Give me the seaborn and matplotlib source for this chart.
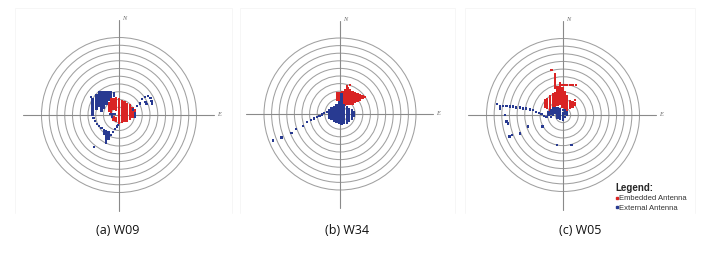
import matplotlib
matplotlib.use("Agg")
import matplotlib.pyplot as plt
import seaborn as sns
import pandas as pd
from matplotlib.patches import Circle
from matplotlib.lines import Line2D

# ---------------- data (units: one ring spacing = 1) ----------------
rings = [1, 2, 3, 4, 5, 6, 7, 8, 9, 10]
captions = ["(a) W09", "(b) W34", "(c) W05"]
series_names = ["Embedded Antenna", "External Antenna"]

# columns of points: (x, [y values])
a_red_cols = [
    (-1.3, [0.6, 0.9, 1.2, 1.5]),
    (-1.0, [0.2, 0.5, 0.8, 1.1, 1.4, 1.7, 2.0]),
    (-0.7, [-0.6, -0.3, 0.8, 1.1, 1.4, 1.7, 2.0]),
    (-0.35, [-0.7, -0.4, 0.7, 1.0, 1.3, 1.6, 1.9, 2.2]),
    (0.0, [-1.0, -0.7, -0.4, -0.1, 0.2, 0.5, 0.8, 1.1, 1.4, 1.7, 2.0]),
    (0.35, [-0.9, -0.6, -0.3, 0.0, 0.3, 0.6, 0.9, 1.2, 1.5, 1.8]),
    (0.7, [-0.8, -0.5, -0.2, 0.1, 0.4, 0.7, 1.0, 1.3, 1.6]),
    (1.05, [-0.7, -0.4, -0.1, 0.2, 0.5, 0.8, 1.1, 1.4]),
    (1.4, [-0.5, -0.2, 0.1, 0.4, 0.7, 1.0, 1.3]),
    (1.75, [-0.3, 0.0, 0.3, 0.6, 0.9]),
    (2.1, [0.0, 0.3, 0.6]),
]
a_blue_cols = [
    (-3.6, [2.3]),
    (-3.4, [0.0, 0.3, 0.6, 0.9, 1.2, 1.5, 1.8, 2.1]),
    (-3.3, [-0.4]), (-3.1, [-0.8]), (-2.85, [-1.15]), (-2.55, [-1.45]), (-2.25, [-1.7]),
    (-2.9, [0.8, 1.1, 1.4, 1.7, 2.0, 2.3, 2.6]),
    (-2.6, [1.2, 1.5, 1.8, 2.1, 2.4, 2.7, 3.0]),
    (-2.25, [0.6, 0.9, 1.2, 1.5, 1.8, 2.1, 2.4, 2.7, 3.0]),
    (-1.9, [0.9, 1.2, 1.5, 1.8, 2.1, 2.4, 2.7, 3.0]),
    (-1.6, [1.5, 1.8, 2.1, 2.4, 2.7, 3.0]),
    (-1.3, [2.0, 2.3, 2.6, 2.9]),
    (-1.0, [2.3, 2.6, 2.9]),
    (-0.65, [2.5, 2.8]),
    (-1.2, [0.1]), (-0.9, [0.15, -0.2]), (-0.6, [0.1]),
    (-1.95, [-2.0, -2.4]),
    (-1.65, [-2.1, -2.4, -2.7, -3.0, -3.3, -3.6]),
    (-1.35, [-2.2, -2.5, -2.8, -3.1]),
    (-1.0, [-2.6]), (-0.75, [-2.2]), (-0.5, [-1.85]), (-0.3, [-1.5]), (-0.1, [-1.25]),
    (-3.25, [-4.15]),
    (1.85, [0.7]), (2.05, [0.3, 0.0, -0.3]), (2.35, [1.15]), (2.7, [1.5]),
    (3.0, [2.05]), (3.35, [2.35]), (3.7, [2.45]), (4.05, [2.2]), (4.2, [1.85]),
    (4.25, [1.5]), (3.55, [1.4]), (3.4, [1.7]),
]
b_red_cols = [
    (-0.35, [1.9, 2.2, 2.5, 2.7]),
    (0.0, [1.6, 1.9, 2.2, 2.5, 2.8]),
    (0.35, [1.4, 1.7, 2.0, 2.3, 2.6, 2.9]),
    (0.65, [1.2, 1.5, 1.8, 2.1, 2.4, 2.7, 3.0, 3.2]),
    (0.9, [3.6]),
    (1.0, [1.4, 1.7, 2.0, 2.3, 2.6, 2.9, 3.2, 3.4]),
    (1.3, [1.3, 1.6, 1.9, 2.2, 2.5, 2.8, 3.1, 3.8]),
    (1.65, [1.4, 1.7, 2.0, 2.3, 2.6, 2.9]),
    (2.0, [1.6, 1.9, 2.2, 2.5, 2.8]),
    (2.3, [1.7, 2.0, 2.3, 2.6]),
    (2.65, [1.85, 2.15, 2.45]),
    (2.95, [2.1, 2.35]),
    (3.3, [2.2]),
]
b_blue_cols = [
    (-8.8, [-3.5]), (-7.7, [-3.1]), (-6.4, [-2.5]), (-5.8, [-1.95]), (-4.85, [-1.55]),
    (-4.3, [-1.05]), (-3.85, [-0.8]), (-3.45, [-0.6]), (-3.05, [-0.42]), (-2.7, [-0.25]),
    (-2.4, [-0.05]), (-2.1, [0.1]), (-1.75, [0.3]),
    (-1.4, [-0.45, -0.15, 0.15, 0.45]),
    (-1.1, [-0.7, -0.4, -0.1, 0.2, 0.5, 0.75]),
    (-0.8, [-0.9, -0.6, -0.3, 0.0, 0.3, 0.6, 0.95]),
    (-0.45, [-1.0, -0.7, -0.4, -0.1, 0.2, 0.5, 0.8, 1.1]),
    (-0.13, [-1.15, -0.85, -0.55, -0.25, 0.05, 0.35, 0.65, 0.95, 1.25, 1.5]),
    (0.2, [-1.3, -1.0, -0.7, -0.4, -0.1, 0.2, 0.5, 0.8, 1.1, 1.4, 1.7, 2.0, 2.3, 2.6]),
    (0.53, [-1.2, -0.9, -0.6, -0.3, 0.0, 0.3, 0.6, 0.9, 1.2]),
    (0.88, [-1.15, -0.85, -0.55, -0.25, 0.05, 0.35, 0.65, 0.95]),
    (1.2, [-0.9, -0.6, -0.3, 0.0, 0.3, 0.6]),
    (1.55, [-0.6, -0.3, 0.0, 0.3, 0.5]),
    (1.85, [-0.3, 0.0, 0.3]),
]
c_red_cols = [
    (-1.5, [5.9]),
    (-1.05, [3.5, 3.8, 4.1, 4.4, 4.7, 5.0, 5.3]),
    (-2.35, [1.1, 1.4, 1.7, 1.95]),
    (-2.05, [0.9, 1.2, 1.5, 1.8, 2.1]),
    (-1.7, [0.65, 0.95, 1.25, 1.55, 1.85, 2.15, 2.4]),
    (-1.35, [0.9, 1.2, 1.5, 1.8, 2.1, 2.4, 2.7]),
    (-1.05, [1.1, 1.4, 1.7, 2.0, 2.3, 2.6, 2.9]),
    (-0.7, [1.3, 1.6, 1.9, 2.2, 2.5, 2.8, 3.1, 3.4, 3.7]),
    (-0.4, [1.5, 1.8, 2.1, 2.4, 2.7, 3.0, 3.3, 3.6, 3.9, 4.1]),
    (-0.05, [1.1, 1.4, 1.7, 2.0, 2.3, 2.6, 2.9, 3.2, 3.5, 3.9]),
    (0.26, [0.9, 1.2, 1.5, 1.8, 2.1, 2.4, 2.7, 3.0, 3.9]),
    (0.56, [0.65, 0.95, 1.25, 1.55, 1.85, 2.15, 2.4, 3.9]),
    (0.9, [0.9, 1.2, 1.5, 1.8, 3.9]),
    (1.26, [1.1, 1.4, 1.7, 3.9]),
    (1.56, [1.3, 1.6, 1.95]),
    (1.7, [3.9]),
]
c_blue_cols = [
    (-8.6, [1.43]), (-8.26, [1.17]), (-7.8, [1.17]), (-7.4, [1.17]), (-6.96, [1.09]),
    (-6.5, [1.09]), (-6.1, [1.0]), (-5.65, [1.0]), (-5.2, [0.87]), (-4.8, [0.87]),
    (-4.35, [0.74]), (-3.9, [0.65]), (-3.57, [0.43]), (-3.13, [0.3]), (-2.83, [0.13]),
    (-2.52, [-0.13]), (-2.17, [-0.22]),
    (-8.2, [0.87]), (-7.6, [0.0]), (-7.4, [-0.87]), (-7.2, [-1.1]), (-7.0, [-2.8]),
    (-6.7, [-2.6]), (-5.65, [-2.4]), (-4.57, [-1.5]), (-2.7, [-1.5]),
    (-0.78, [-3.9]), (1.1, [-3.9]),
    (-1.9, [0.0, 0.2, 0.43]),
    (-1.6, [-0.22, 0.1, 0.4, 0.65]),
    (-1.35, [0.0, 0.3, 0.6, 0.87]),
    (-1.05, [0.22, 0.5, 0.87]),
    (-0.74, [-0.43, -0.15, 0.15, 0.45, 0.87]),
    (-0.4, [-0.56, -0.26, 0.04, 0.34, 0.74]),
    (-0.04, [-0.65, -0.35, -0.05, 0.25, 0.65]),
    (0.26, [-0.22, 0.1, 0.4, 0.65]),
    (0.56, [0.0, 0.25, 0.43]),
]

panel_data = {
    "a": (a_red_cols, a_blue_cols),
    "b": (b_red_cols, b_blue_cols),
    "c": (c_red_cols, c_blue_cols),
}

rows = []
for key, (red_cols, blue_cols) in panel_data.items():
    for name, cols in zip(series_names, (red_cols, blue_cols)):
        for x, ys in cols:
            for y in ys:
                rows.append({"panel": key, "antenna": name, "x": x, "y": y})
df = pd.DataFrame(rows)

# ---------------- styling ----------------
sns.set_theme(style="white")
plt.rcParams["font.family"] = ["DejaVu Sans"]

RED = "#d92424"
BLUE = "#283a91"
palette = {series_names[0]: RED, series_names[1]: BLUE}
RING = "#a0a0a0"
AXIS = "#8a8a8a"

W, H = 709, 256
fig = plt.figure(figsize=(W / 100, H / 100), dpi=100)
fig.patch.set_facecolor("white")

# very faint panel frames (pasted screenshots)
frame_ax = fig.add_axes([0, 0, 1, 1])
frame_ax.set_xlim(0, W)
frame_ax.set_ylim(H, 0)
frame_ax.axis("off")
for x0, x1 in [(15, 232), (240, 455), (465, 695)]:
    frame_ax.plot([x0, x0, x1, x1], [213, 8, 8, 213], color="#f5f5f5", lw=0.6)

layout = [("a", 119, 115, 7.75), ("b", 340, 114, 7.6), ("c", 563, 115, 7.65)]
half = 14
for key, cx, cy, s in layout:
    ax = fig.add_axes([(cx - half * s) / W, (H - cy - half * s) / H,
                       2 * half * s / W, 2 * half * s / H])
    ax.set_xlim(-half, half)
    ax.set_ylim(-half, half)
    ax.axis("off")
    for r in rings:
        ax.add_patch(Circle((0, 0), r, fill=False, ec=RING, lw=0.75, zorder=1))
    ax.plot([-12.4, 12.2], [0, 0], color=AXIS, lw=0.8, zorder=1)
    ax.plot([0, 0], [-12.4, 12.3], color=AXIS, lw=0.8, zorder=1)
    ax.text(0.35, 12.5, "N", fontsize=4.5, style="italic", family="Liberation Serif",
            color="#666666", ha="left", va="center")
    ax.text(12.6, 0.1, "E", fontsize=4.5, style="italic", family="Liberation Serif",
            color="#666666", ha="left", va="center")
    sub = df[df["panel"] == key]
    sns.scatterplot(data=sub, x="x", y="y", hue="antenna", hue_order=series_names,
                    palette=palette, marker="s", s=2.8, linewidth=0, legend=False,
                    ax=ax, zorder=3)

for txt, xpx in zip(captions, [118, 347, 580]):
    fig.text(xpx / W, (H - 230) / H, txt, ha="center", va="center",
             fontsize=9, family="Open Sans", color="#111111")

handles = [Line2D([], [], marker="s", ls="", color=palette[n], markersize=2)
           for n in series_names]
leg = fig.legend(handles, series_names, loc="upper left",
                 bbox_to_anchor=(615 / W, (H - 183) / H), frameon=False,
                 title="Legend:", alignment="left",
                 handlelength=0.4, handletextpad=0.15, labelspacing=0.25,
                 borderpad=0, borderaxespad=0,
                 prop={"family": "Liberation Sans", "size": 5.5})
leg.get_title().set_fontweight("bold")
leg.get_title().set_fontsize(7)
leg.get_title().set_family("Liberation Sans")
for t in leg.get_texts():
    t.set_color("#333333")

fig.savefig("out.png", dpi=100, facecolor="white")
